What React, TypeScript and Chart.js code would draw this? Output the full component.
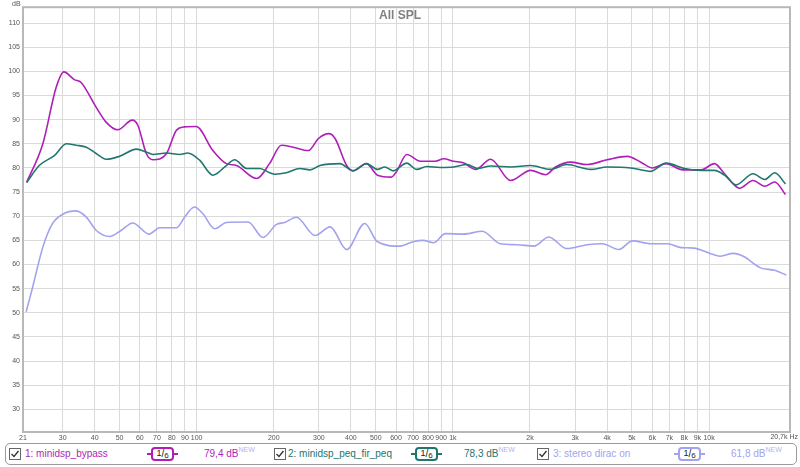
import { useEffect, useRef } from "react"
import { Chart, registerables } from "chart.js"

Chart.register(...registerables)

const FONT = '"Liberation Sans", Arial, sans-serif'

const bypassFreq = [21.7, 25.1, 28.3, 30.3, 33.3, 35.4, 40.5, 44.3, 49.2, 56.1, 59, 63.6, 67.5, 76.3, 83.4, 89.7, 99.6, 115.7, 130.6, 143, 171.6, 193, 214, 238, 273, 299, 328, 347, 385, 408, 460, 508, 575, 602, 661, 748, 855, 920, 1007, 1104, 1227, 1405, 1680, 2012, 2300, 2516, 2877, 3340, 4000, 4800, 5413, 6017, 6793, 7902, 9313, 10500, 11490, 13150, 14850, 16500, 18060, 19870]
const bypassDb = [77.0, 85.0, 96.7, 99.9, 98.3, 97.7, 92.6, 89.5, 87.9, 89.9, 88.8, 83.0, 81.7, 83.0, 87.8, 88.5, 88.6, 83.6, 80.9, 80.5, 77.8, 81.0, 84.7, 84.3, 83.6, 86.1, 87.1, 86.1, 80.5, 79.4, 80.9, 78.5, 78.1, 79.2, 82.8, 81.4, 81.4, 81.9, 81.4, 81.0, 79.7, 81.8, 77.4, 79.5, 78.6, 80.2, 81.2, 80.7, 81.7, 82.4, 81.2, 80.0, 80.9, 79.6, 79.6, 80.9, 78.8, 75.8, 77.4, 76.2, 77.1, 74.5]

const firFreq = [21.7, 24.3, 27.9, 31.0, 33.9, 37.1, 40.5, 44.3, 50, 58.2, 63.6, 67.5, 76.3, 86, 92.4, 102.7, 115.7, 130.6, 140.7, 156.7, 176.6, 193, 202, 224, 253, 277, 303, 362, 408, 460, 508, 542, 585, 661, 722, 791, 891, 1007, 1138, 1246, 1405, 1680, 2012, 2405, 2783, 3457, 4000, 4948, 5920, 6793, 8020, 9313, 10500, 11490, 12750, 14850, 16500, 18060, 19870]
const firDb = [77.0, 80.5, 82.6, 85.0, 84.7, 84.3, 83.0, 81.8, 82.4, 83.9, 83.3, 82.8, 83.1, 82.8, 83.1, 81.6, 78.5, 80.5, 81.7, 79.9, 79.9, 79.0, 78.7, 79.0, 79.9, 79.6, 80.5, 80.9, 79.4, 80.9, 79.7, 80.2, 79.4, 81.0, 79.7, 80.3, 80.1, 80.2, 80.7, 79.9, 80.4, 80.2, 80.5, 79.7, 80.7, 79.7, 80.2, 80.0, 79.3, 81.0, 79.9, 79.5, 79.5, 78.5, 76.5, 78.8, 77.6, 79.0, 76.7]

const diracFreq = [21.6, 22.9, 25.1, 27.4, 30, 33.9, 37.1, 40.5, 45.7, 50.8, 56.3, 65.2, 71.7, 83.4, 89.7, 98, 105.8, 117.7, 130.6, 158.8, 181.6, 205, 220.5, 245, 290, 332, 385, 453, 508, 621, 699, 766, 840, 935, 1104, 1304, 1530, 1779, 2072, 2367, 2783, 3340, 3830, 4450, 5020, 5920, 6890, 7800, 8720, 10100, 11050, 12440, 13600, 15880, 18060, 20040]
const diracDb = [50.2, 55.3, 63.6, 68.5, 70.4, 71.1, 69.8, 67.1, 65.8, 67.1, 68.6, 66.3, 67.6, 67.6, 69.8, 71.9, 70.5, 67.4, 68.7, 68.8, 65.6, 68.3, 68.7, 69.8, 66.0, 67.8, 63.1, 68.5, 64.7, 63.8, 64.7, 65.0, 64.5, 66.4, 66.3, 66.9, 64.3, 64.1, 63.8, 65.7, 63.3, 64.1, 64.3, 63.1, 64.9, 64.3, 64.3, 63.5, 63.4, 62.3, 61.7, 62.3, 61.7, 59.3, 58.8, 57.8]

const freqTicks = [21, 30, 40, 50, 60, 70, 80, 90, 100, 200, 300, 400, 500, 600, 700, 800, 900, 1000, 2000, 3000, 4000, 5000, 6000, 7000, 8000, 9000, 10000, 20700]
const dbTicks = [30, 35, 40, 45, 50, 55, 60, 65, 70, 75, 80, 85, 90, 95, 100, 105, 110]

const MAGENTA = "#b01eb8"
const TEAL = "#21766e"
const LAVENDER = "#a2a2ee"

const series = [
  { name: "1: minidsp_bypass", color: MAGENTA, level: "79,4 dB", freq: bypassFreq, db: bypassDb },
  { name: "2: minidsp_peq_fir_peq", color: TEAL, level: "78,3 dB", freq: firFreq, db: firDb },
  { name: "3: stereo dirac on", color: LAVENDER, level: "61,8 dB", freq: diracFreq, db: diracDb },
]

function freqLabel(v: number) {
  if (v === 20700) return ""
  if (v >= 1000) return v / 1000 + "k"
  return String(v)
}

const extras = {
  id: "extras",
  afterDraw(chart: Chart) {
    const { ctx, chartArea } = chart
    ctx.save()
    ctx.strokeStyle = "#b8b8b8"
    ctx.lineWidth = 2
    ctx.strokeRect(chartArea.left, chartArea.top, chartArea.right - chartArea.left, chartArea.bottom - chartArea.top)

    ctx.fillStyle = "#808080"
    ctx.font = "bold 12px " + FONT
    ctx.textAlign = "center"
    ctx.textBaseline = "middle"
    ctx.fillText("All SPL", 400, 16)

    ctx.fillStyle = "#555"
    ctx.font = "7px " + FONT
    ctx.textAlign = "left"
    ctx.fillText("dB", 12, 4)

    ctx.textAlign = "right"
    ctx.fillText("20,7k Hz", 798, 437)
    ctx.restore()
  },
}

function SmoothIcon({ color, left }: { color: string; left: number }) {
  return (
    <div style={{ position: "absolute", left, top: 3, width: 31, height: 14 }}>
      <div style={{ position: "absolute", left: 0, top: 6, width: 5, height: 2, background: color }} />
      <div style={{ position: "absolute", right: 0, top: 6, width: 5, height: 2, background: color }} />
      <div
        style={{
          position: "absolute",
          left: 4,
          top: 0,
          width: 23,
          height: 14,
          boxSizing: "border-box",
          border: "2px solid " + color,
          borderRadius: 4,
          background: "#fff",
          fontSize: 10,
          lineHeight: "10px",
          textAlign: "center",
          color: "#222",
        }}
      >
        <span style={{ fontSize: 9, position: "relative", top: -1 }}>1</span>
        <span>/</span>
        <span style={{ fontSize: 8, position: "relative", top: 1 }}>6</span>
      </div>
    </div>
  )
}

function CheckBox({ left }: { left: number }) {
  return (
    <svg style={{ position: "absolute", left, top: 4 }} width="12" height="12" viewBox="0 0 12 12">
      <rect x="0.5" y="0.5" width="11" height="11" fill="#fff" stroke="#666" />
      <polyline points="2.5,6 5,8.5 9.5,3" fill="none" stroke="#333" strokeWidth="1.3" />
    </svg>
  )
}

function Legend() {
  const checkX = [3, 268, 531]
  const textX = [19, 282, 547]
  const iconX = [141, 405, 668]
  const levelX = [198, 458, 725]
  return (
    <div
      style={{
        position: "absolute",
        left: 5,
        top: 443,
        width: 792,
        height: 22,
        boxSizing: "border-box",
        border: "1px solid #9a9a9a",
        borderRadius: 5,
        background: "#fff",
        fontFamily: FONT,
        fontSize: 10,
      }}
    >
      {series.map((s, i) => (
        <div key={s.name}>
          <CheckBox left={checkX[i]} />
          <div style={{ position: "absolute", left: textX[i], top: 0, lineHeight: "20px", color: s.color }}>{s.name}</div>
          <SmoothIcon color={s.color} left={iconX[i]} />
          <div style={{ position: "absolute", left: levelX[i], top: 0, lineHeight: "20px", color: s.color }}>
            {s.level}
            <sup style={{ fontSize: 7, color: "#b4b4f2", verticalAlign: "top", position: "relative", top: -4 }}>NEW</sup>
          </div>
        </div>
      ))}
    </div>
  )
}

export default function App() {
  const chartRef = useRef<HTMLCanvasElement>(null)
  const chartInstance = useRef<Chart | null>(null)

  useEffect(() => {
    const canvas = chartRef.current
    if (!canvas) return

    if (chartInstance.current) {
      chartInstance.current.destroy()
    }

    chartInstance.current = new Chart(canvas, {
      type: "line",
      data: {
        datasets: [...series].reverse().map((s) => ({
          label: s.name,
          data: s.freq.map((f, i) => ({ x: f, y: s.db[i] })),
          borderColor: s.color,
          borderWidth: 1.6,
          pointRadius: 0,
          fill: false,
          cubicInterpolationMode: "monotone" as const,
        })),
      },
      options: {
        responsive: false,
        animation: false,
        layout: { padding: { top: 7, right: 10, left: 0, bottom: 0 } },
        plugins: {
          legend: { display: false },
          tooltip: { enabled: false },
        },
        scales: {
          x: {
            type: "logarithmic",
            min: 21,
            max: 20700,
            afterBuildTicks: (scale) => {
              scale.ticks = freqTicks.map((v) => ({ value: v }))
            },
            afterFit: (scale) => {
              scale.height = 11
              scale.paddingLeft = 0
              scale.paddingRight = 0
            },
            grid: { color: "#dadada", drawTicks: false },
            border: { display: false },
            ticks: {
              autoSkip: false,
              maxRotation: 0,
              minRotation: 0,
              padding: 2,
              color: "#555",
              font: { size: 7, family: FONT },
              callback: (value) => freqLabel(Number(value)),
            },
          },
          y: {
            type: "linear",
            min: 25.3,
            max: 113.3,
            afterBuildTicks: (scale) => {
              scale.ticks = dbTicks.map((v) => ({ value: v }))
            },
            afterFit: (scale) => {
              scale.width = 23
            },
            grid: { color: "#dadada", drawTicks: false },
            border: { display: false },
            ticks: {
              padding: 3,
              color: "#555",
              font: { size: 7, family: FONT },
            },
          },
        },
      },
      plugins: [extras],
    })

    return () => {
      if (chartInstance.current) {
        chartInstance.current.destroy()
        chartInstance.current = null
      }
    }
  }, [])

  return (
    <div style={{ position: "absolute", left: 0, top: 0, width: 800, height: 467, background: "#fff" }}>
      <canvas ref={chartRef} width={800} height={443} style={{ position: "absolute", left: 0, top: 0 }} />
      <Legend />
    </div>
  )
}
